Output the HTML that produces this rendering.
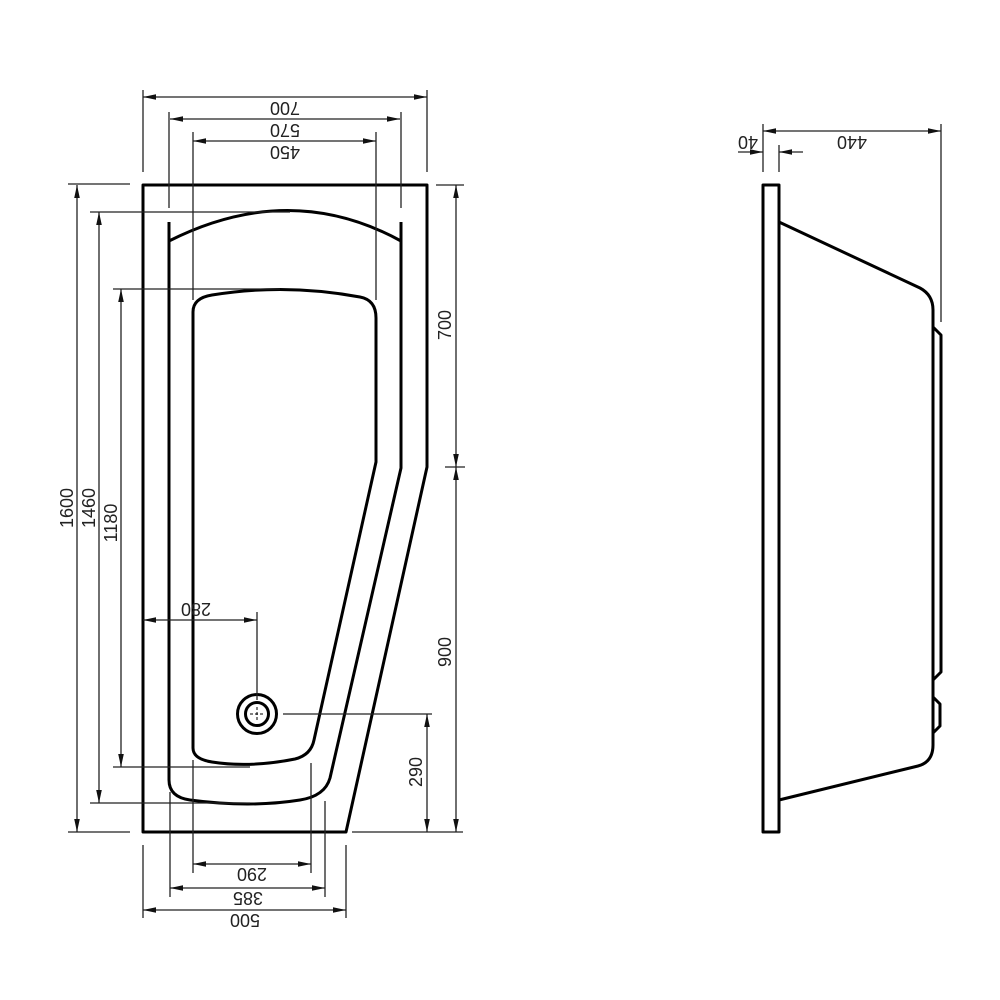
<!DOCTYPE html>
<html><head><meta charset="utf-8"><style>
html,body{margin:0;padding:0;background:#fff;}
svg{display:block}
text{font-family:"Liberation Sans",Arial,sans-serif;font-size:18px;fill:#222;}
</style></head><body>
<svg width="1000" height="1000" viewBox="0 0 1000 1000" xmlns="http://www.w3.org/2000/svg">
<defs>
<marker id="a" markerWidth="14" markerHeight="8" refX="13" refY="4" orient="auto-start-reverse" markerUnits="userSpaceOnUse">
<path d="M0,1.2 L13,4 L0,6.8 Z" fill="#111"/>
</marker>
</defs>
<g fill="none" stroke="#000" stroke-width="3" stroke-linejoin="round">
<path d="M143,185 L427,185 L427,467 L346,832 L143,832 Z"/>
<path d="M169,222 L169,780 Q169,797 190,800 Q250,808 300,800 Q325,796 330,778 L401,468 L401,222"/>
<path d="M169,241 Q290,180 401,241"/>
<path d="M193,748 L193,312 Q193,298 212,295 Q285,283 360,297 Q376,300 376,318 L376,462 L314,740 Q311,755 295,759 Q250,768 212,762 Q193,759 193,748 Z"/>
<circle cx="257" cy="714" r="19.5"/>
<circle cx="257" cy="714" r="11.5"/>
<rect x="763" y="185" width="16" height="647"/>
<path d="M779,222 L920,288 Q933,295 933,310 L933,745 Q933,762 918,766 L779,800"/>
<path d="M933,327 L941,335 L941,672 L933,680"/>
<path d="M933,697 L940,704 L940,726 L933,733"/>
</g>
<g stroke="#000" stroke-width="1" fill="none">
<line x1="250" y1="714" x2="264" y2="714" stroke-dasharray="3,2"/>
<line x1="257" y1="707" x2="257" y2="721" stroke-dasharray="3,2"/>
</g>
<g stroke="#222" stroke-width="1.3" fill="none">
<line x1="143" y1="90" x2="143" y2="172"/><line x1="427" y1="90" x2="427" y2="172"/>
<line x1="143" y1="97" x2="427" y2="97" marker-start="url(#a)" marker-end="url(#a)"/>
<line x1="169" y1="112" x2="169" y2="208"/><line x1="401" y1="112" x2="401" y2="208"/>
<line x1="170" y1="119" x2="400" y2="119" marker-start="url(#a)" marker-end="url(#a)"/>
<line x1="193" y1="132" x2="193" y2="300"/><line x1="376" y1="132" x2="376" y2="300"/>
<line x1="193" y1="141" x2="376" y2="141" marker-start="url(#a)" marker-end="url(#a)"/>
<line x1="68" y1="184" x2="130" y2="184"/><line x1="68" y1="832" x2="130" y2="832"/>
<line x1="77" y1="185" x2="77" y2="832" marker-start="url(#a)" marker-end="url(#a)"/>
<line x1="90" y1="212" x2="290" y2="212"/><line x1="90" y1="803" x2="250" y2="803"/>
<line x1="99" y1="212" x2="99" y2="803" marker-start="url(#a)" marker-end="url(#a)"/>
<line x1="113" y1="289" x2="280" y2="289"/><line x1="113" y1="767" x2="250" y2="767"/>
<line x1="121" y1="289" x2="121" y2="767" marker-start="url(#a)" marker-end="url(#a)"/>
<line x1="436" y1="185" x2="464" y2="185"/>
<line x1="445" y1="467" x2="465" y2="467"/>
<line x1="352" y1="832" x2="463" y2="832"/>
<line x1="456" y1="185" x2="456" y2="467" marker-start="url(#a)" marker-end="url(#a)"/>
<line x1="456" y1="467" x2="456" y2="832" marker-start="url(#a)" marker-end="url(#a)"/>
<line x1="283" y1="714" x2="432" y2="714"/>
<line x1="427" y1="714" x2="427" y2="832" marker-start="url(#a)" marker-end="url(#a)"/>
<line x1="257" y1="612" x2="257" y2="700"/>
<line x1="143" y1="620" x2="257" y2="620" marker-start="url(#a)" marker-end="url(#a)"/>
<line x1="193" y1="760" x2="193" y2="873"/><line x1="311" y1="763" x2="311" y2="873"/>
<line x1="193" y1="864" x2="311" y2="864" marker-start="url(#a)" marker-end="url(#a)"/>
<line x1="170" y1="792" x2="170" y2="897"/><line x1="325" y1="801" x2="325" y2="897"/>
<line x1="170" y1="888" x2="325" y2="888" marker-start="url(#a)" marker-end="url(#a)"/>
<line x1="143" y1="845" x2="143" y2="918"/><line x1="346" y1="845" x2="346" y2="918"/>
<line x1="143" y1="910" x2="346" y2="910" marker-start="url(#a)" marker-end="url(#a)"/>
<line x1="763" y1="124" x2="763" y2="172"/><line x1="941" y1="124" x2="941" y2="322"/>
<line x1="763" y1="131" x2="941" y2="131" marker-start="url(#a)" marker-end="url(#a)"/>
<line x1="779" y1="145" x2="779" y2="172"/>
<line x1="738" y1="152" x2="763" y2="152" marker-end="url(#a)"/>
<line x1="803" y1="152" x2="779" y2="152" marker-end="url(#a)"/>
</g>
<g text-anchor="middle">
<text transform="translate(285,102) rotate(180)">700</text>
<text transform="translate(285,124) rotate(180)">570</text>
<text transform="translate(285,146) rotate(180)">450</text>
<text transform="translate(73,508) rotate(-90)">1600</text>
<text transform="translate(95,508) rotate(-90)">1460</text>
<text transform="translate(117,523) rotate(-90)">1180</text>
<text transform="translate(451,325) rotate(-90)">700</text>
<text transform="translate(451,652) rotate(-90)">900</text>
<text transform="translate(422,772) rotate(-90)">290</text>
<text transform="translate(196,603) rotate(180)">280</text>
<text transform="translate(252,868) rotate(180)">290</text>
<text transform="translate(248,892) rotate(180)">385</text>
<text transform="translate(245,914) rotate(180)">500</text>
<text transform="translate(852,136) rotate(180)">440</text>
<text transform="translate(748,136) rotate(180)">40</text>
</g>
</svg>
</body></html>
